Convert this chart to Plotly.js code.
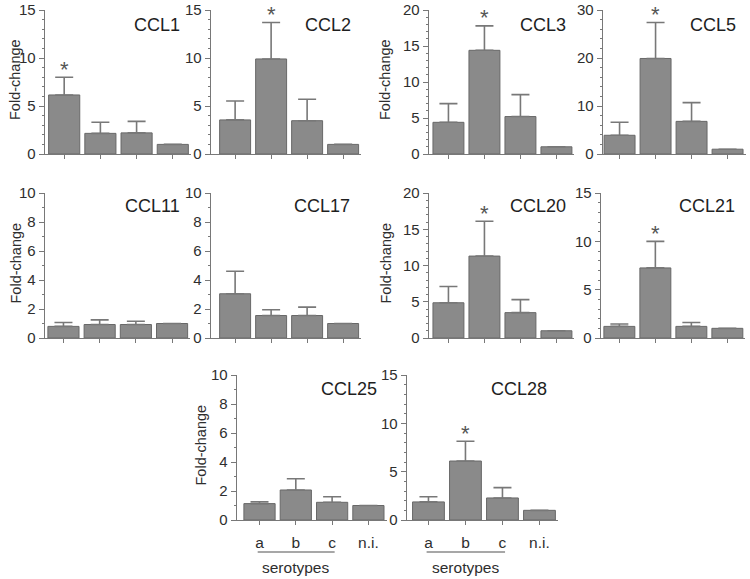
<!DOCTYPE html>
<html>
<head>
<meta charset="utf-8">
<script src="https://cdn.plot.ly/plotly-3.0.1.min.js"></script>
<style>html,body{margin:0;padding:0;background:#fff;}#chart{width:750px;height:579px;}</style>
</head>
<body>
<div id="chart"></div>
<script>
// ---- data ----
const categories = ['a', 'b', 'c', 'n.i.'];
const panelNames = ['CCL1', 'CCL2', 'CCL3', 'CCL5', 'CCL11', 'CCL17', 'CCL20', 'CCL21', 'CCL25', 'CCL28'];
const ccl1Mean  = [6.15, 2.15, 2.2, 1.0];   const ccl1Err  = [1.85, 1.15, 1.2, null];
const ccl2Mean  = [3.55, 9.9, 3.47, 1.0];   const ccl2Err  = [1.97, 3.8, 2.23, null];
const ccl3Mean  = [4.4, 14.4, 5.2, 1.0];    const ccl3Err  = [2.6, 3.4, 3.05, null];
const ccl5Mean  = [3.9, 19.9, 6.8, 1.0];    const ccl5Err  = [2.7, 7.5, 3.9, null];
const ccl11Mean = [0.8, 0.93, 0.93, 1.0];   const ccl11Err = [0.27, 0.32, 0.23, null];
const ccl17Mean = [3.05, 1.55, 1.55, 1.0];  const ccl17Err = [1.55, 0.4, 0.58, null];
const ccl20Mean = [4.86, 11.3, 3.5, 1.0];   const ccl20Err = [2.24, 4.8, 1.8, null];
const ccl21Mean = [1.2, 7.25, 1.2, 1.0];    const ccl21Err = [0.25, 2.75, 0.4, null];
const ccl25Mean = [1.13, 2.07, 1.22, 1.0];  const ccl25Err = [0.13, 0.78, 0.38, null];
const ccl28Mean = [1.87, 6.1, 2.28, 1.0];   const ccl28Err = [0.53, 2.05, 1.07, null];
const significantIndex = [0, 1, 1, 1, null, null, 1, 1, null, 1];
const yMaxValues = [15, 15, 20, 30, 10, 10, 20, 15, 10, 15];
const yMajorStep = [5, 5, 5, 10, 2, 2, 5, 5, 2, 5];
const yMinorStep = [1, 1, 1, 2, 1, 1, 1, 1, 1, 1];
const groupLabel = 'serotypes';
const yTitle = 'Fold-change';

const means = [ccl1Mean, ccl2Mean, ccl3Mean, ccl5Mean, ccl11Mean, ccl17Mean, ccl20Mean, ccl21Mean, ccl25Mean, ccl28Mean];
const errs  = [ccl1Err, ccl2Err, ccl3Err, ccl5Err, ccl11Err, ccl17Err, ccl20Err, ccl21Err, ccl25Err, ccl28Err];

// ---- layout geometry (pixels) ----
const W = 750, H = 579;
const geom = [
  {ax: 45,  left: -0.53, slot: 36.2, top: 10,  bot: 154, tx: 182, ty: 25,  yt: 15,  showYT: true},
  {ax: 211, left: -0.67, slot: 36.0, top: 10,  bot: 154, tx: 353, ty: 25,  yt: 0,   showYT: false},
  {ax: 429, left: -0.54, slot: 36.0, top: 10,  bot: 154, tx: 568, ty: 25,  yt: 385, showYT: true},
  {ax: 603, left: -0.46, slot: 36.0, top: 10,  bot: 154, tx: 738, ty: 25,  yt: 0,   showYT: false},
  {ax: 45,  left: -0.51, slot: 36.2, top: 193, bot: 338, tx: 182, ty: 206, yt: 15,  showYT: true},
  {ax: 211, left: -0.67, slot: 36.0, top: 193, bot: 338, tx: 352, ty: 206, yt: 0,   showYT: false},
  {ax: 429, left: -0.54, slot: 36.0, top: 193, bot: 338, tx: 568, ty: 206, yt: 385, showYT: true},
  {ax: 601, left: -0.51, slot: 36.0, top: 193, bot: 338, tx: 737, ty: 206, yt: 0,   showYT: false},
  {ax: 237, left: -0.62, slot: 36.3, top: 375, bot: 520, tx: 379, ty: 389, yt: 200, showYT: true},
  {ax: 407, left: -0.58, slot: 37.0, top: 375, bot: 520, tx: 549, ty: 389, yt: 0,   showYT: false}
];

const barFill = '#8a8a8a', barEdge = '#686868', axisCol = '#787878', textCol = '#2e2e2e';
const fontFam = '"Liberation Sans", Arial, sans-serif';

const traces = [];
const layout = {
  width: W, height: H,
  margin: {l: 0, r: 0, t: 0, b: 0},
  paper_bgcolor: '#ffffff', plot_bgcolor: 'rgba(0,0,0,0)',
  showlegend: false,
  font: {family: fontFam, color: textCol},
  bargap: 0.14,
  annotations: [], shapes: []
};

for (let i = 0; i < panelNames.length; i++) {
  const g = geom[i];
  const sfx = i === 0 ? '' : String(i + 1);
  const xa = 'x' + sfx, ya = 'y' + sfx;
  const right = 3.5;
  const x0 = g.ax / W, x1 = (g.ax + (right - g.left) * g.slot) / W;
  const bottomRow = i >= 8;
  traces.push({
    type: 'bar', x: [0, 1, 2, 3], y: means[i], xaxis: xa, yaxis: ya,
    marker: {color: barFill, line: {color: barEdge, width: 1}},
    error_y: {type: 'data', symmetric: false, array: errs[i], arrayminus: [0, 0, 0, 0],
              color: '#787878', thickness: 1.6, width: 9},
    hoverinfo: 'skip'
  });
  layout['xaxis' + sfx] = {
    domain: [x0, x1], range: [g.left, right], anchor: ya,
    tickmode: 'array', tickvals: [0, 1, 2, 3], ticktext: categories,
    showticklabels: bottomRow, ticks: 'outside', ticklen: 4, tickwidth: 1, tickcolor: axisCol,
    tickfont: {size: 15.5, color: textCol, family: fontFam}, ticklabelstandoff: 4,
    showline: true, linecolor: axisCol, linewidth: 1.4,
    showgrid: false, zeroline: false, fixedrange: true
  };
  layout['yaxis' + sfx] = {
    domain: [1 - g.bot / H, 1 - g.top / H], range: [0, yMaxValues[i]], anchor: xa,
    tickmode: 'linear', tick0: 0, dtick: yMajorStep[i],
    ticks: 'outside', ticklen: 5, tickwidth: 1, tickcolor: axisCol,
    minor: {ticks: 'outside', ticklen: 2, dtick: yMinorStep[i], tickcolor: axisCol, tickwidth: 1},
    tickfont: {size: 15, color: textCol, family: fontFam}, ticklabelstandoff: 0,
    showline: true, linecolor: axisCol, linewidth: 1.4,
    showgrid: false, zeroline: false, fixedrange: true
  };
  layout.annotations.push({
    text: panelNames[i], xref: 'paper', yref: 'paper', x: g.tx / W, y: 1 - g.ty / H,
    xanchor: 'right', yanchor: 'middle', showarrow: false,
    font: {size: 18, color: '#1e1e1e', family: fontFam}
  });
  if (g.showYT) {
    layout.annotations.push({
      text: yTitle, xref: 'paper', yref: 'paper', x: g.yt / W, y: 1 - ((g.top + g.bot) / 2 - 2) / H,
      xanchor: 'center', yanchor: 'middle', textangle: -90, showarrow: false,
      font: {size: 14.5, color: textCol, family: fontFam}
    });
  }
  const si = significantIndex[i];
  if (si !== null) {
    layout.annotations.push({
      text: '*', xref: xa, yref: ya, x: si, y: means[i][si] + errs[i][si],
      xanchor: 'center', yanchor: 'middle', yshift: 8, showarrow: false, borderpad: 0,
      font: {size: 22, color: '#555555', family: fontFam}
    });
  }
  if (bottomRow) {
    layout.shapes.push({
      type: 'line', xref: xa, yref: 'paper', x0: -0.05, x1: 2.07,
      y0: 1 - 552 / H, y1: 1 - 552 / H, line: {color: '#8a8a8a', width: 1.5}
    });
    layout.annotations.push({
      text: groupLabel, xref: xa, yref: 'paper', x: 1, y: 1 - 567 / H,
      xanchor: 'center', yanchor: 'middle', showarrow: false,
      font: {size: 15.5, color: textCol, family: fontFam}
    });
  }
}

Plotly.newPlot('chart', traces, layout, {staticPlot: true, displayModeBar: false});
</script>
</body>
</html>
